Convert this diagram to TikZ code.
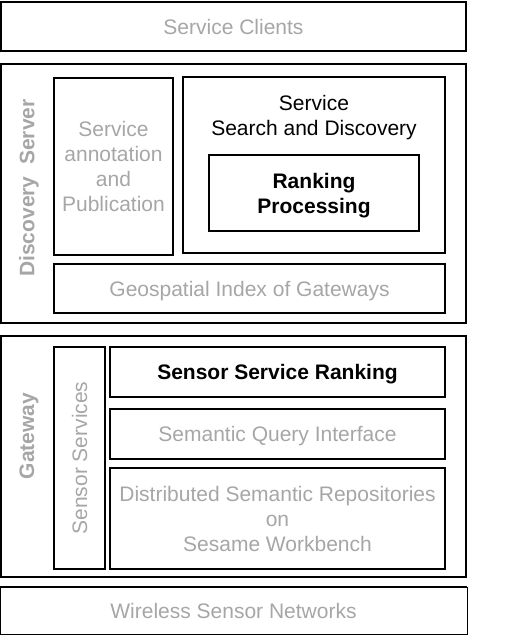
\documentclass[tikz,border=0pt]{standalone}
\usepackage{fontspec}
\setmainfont{Liberation Sans}
\usepackage{tikz}
\usetikzlibrary{positioning}
\definecolor{lightgraytext}{RGB}{166,166,166}
\newcommand\figfont{\fontsize{21}{25}\selectfont}
\tikzstyle{layer} = [rectangle, draw=black, line width=2pt, minimum width=465pt, inner sep=0pt, text depth=0pt, text=lightgraytext, align=center, font=\figfont]
\tikzstyle{block} = [rectangle, draw=black, line width=2pt, inner sep=0pt, text depth=0pt, text=lightgraytext, align=center, font=\figfont]
\tikzstyle{keyblock} = [block, text=black, font=\figfont\bfseries]
\tikzstyle{sidelabel} = [rotate=90, inner sep=0pt, text=lightgraytext, font=\figfont\bfseries]

\begin{document}
\begin{tikzpicture}[x=1pt, y=-1pt]
\useasboundingbox (0,0) rectangle (504,642);
%----------------------------------------------------------------------------
% Layers
\node (clients) [layer, minimum height=49pt] at (233.5,26.5) {Service Clients};
\node (discovery) [layer, minimum height=259pt] at (233.5,193.5) {};
\node (gateway) [layer, minimum height=241pt] at (233.5,456.5) {};
\node (wsn) [layer, draw=none, minimum height=45pt, text depth=-2pt] at (233.5,610.5) {Wireless Sensor Networks};
\draw [line width=2pt] (wsn.south west) -- (wsn.north west) -- (wsn.north east);
\draw [line width=1pt] (wsn.north east) -- (wsn.south east) -- (wsn.south west);

%----------------------------------------------------------------------------
% Discovery server
\node (discoveryLabel) [sidelabel] at (29,188) {Discovery~~Server};
\node (annotation) [block, minimum width=119pt, minimum height=177pt] at (113.5,166) {Service\\annotation\\and\\Publication};
\node (search) [block, minimum width=262pt, minimum height=176pt] at (314,165) {};
\node (searchText) [align=center, inner sep=0pt, font=\figfont] at (314,117.5) {Service\\Search and Discovery};
\node (ranking) [keyblock, minimum width=210pt, minimum height=76pt] at (314,193) {Ranking\\Processing};
\node (geoIndex) [block, minimum width=391pt, minimum height=49pt] at (249.5,288.5) {Geospatial Index of Gateways};

%----------------------------------------------------------------------------
% Gateway
\node (gatewayLabel) [sidelabel] at (29,436) {Gateway};
\node (sensorServices) [block, minimum width=51pt, minimum height=222pt] at (79.5,458) {};
\node (sensorServicesText) [rotate=90, inner sep=0pt, text=lightgraytext, font=\figfont] at (sensorServices) {Sensor Services};
\node (serviceRanking) [keyblock, minimum width=335pt, minimum height=50pt] at (277.5,372) {Sensor Service Ranking};
\node (queryInterface) [block, minimum width=335pt, minimum height=50pt] at (277.5,434) {Semantic Query Interface};
\node (repositories) [block, minimum width=335pt, minimum height=101pt] at (277.5,518.5) {Distributed Semantic Repositories\\on\\Sesame Workbench};

\end{tikzpicture}
\end{document}
